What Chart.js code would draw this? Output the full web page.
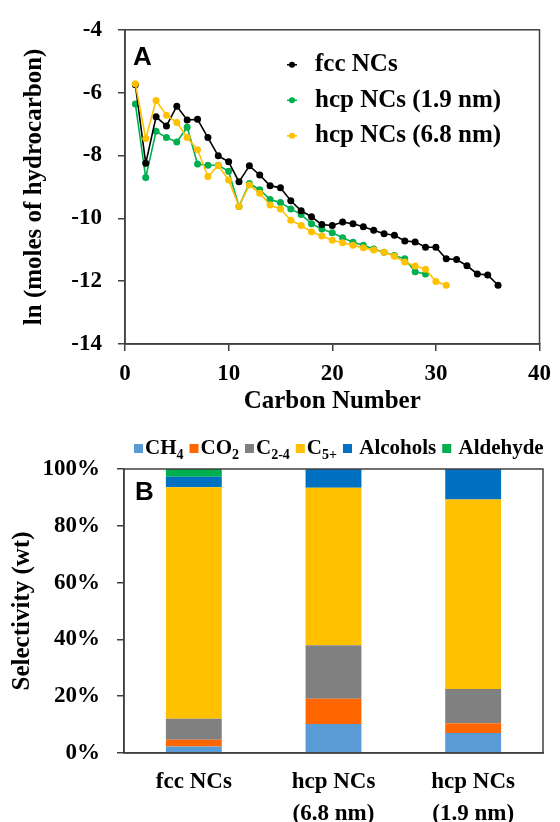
<!DOCTYPE html>
<html>
<head>
<meta charset="utf-8">
<title>Hydrocarbon distribution and selectivity</title>
<script src="https://cdn.jsdelivr.net/npm/chart.js@4.4.1/dist/chart.umd.min.js"></script>
<style>
body{margin:0;background:#fff}
canvas{display:block}
</style>
</head>
<body>
<canvas id="distChart" width="560" height="420"></canvas>
<canvas id="selChart" width="560" height="402"></canvas>
<script>
// panel A: ln(moles) vs carbon number
const carbonNumbers = [1,2,3,4,5,6,7,8,9,10,11,12,13,14,15,16,17,18,19,20,21,22,23,24,25,26,27,28,29,30,31,32,33,34,35,36]
const fccNCs = [-5.75,-8.25,-6.77,-7.06,-6.43,-6.87,-6.85,-7.43,-8.01,-8.20,-8.84,-8.33,-8.62,-8.96,-9.03,-9.44,-9.76,-9.95,-10.20,-10.23,-10.12,-10.17,-10.27,-10.38,-10.49,-10.54,-10.72,-10.75,-10.92,-10.92,-11.29,-11.31,-11.51,-11.77,-11.80,-12.13]
const hcp19 = [-6.36,-8.70,-7.23,-7.43,-7.57,-7.10,-8.27,-8.31,-8.31,-8.50,-9.62,-8.89,-9.09,-9.40,-9.50,-9.70,-9.88,-10.17,-10.34,-10.46,-10.62,-10.76,-10.86,-10.98,-11.08,-11.18,-11.29,-11.70,-11.77]
const hcp68 = [-5.72,-7.46,-6.25,-6.72,-6.95,-7.43,-7.82,-8.67,-8.32,-8.78,-9.62,-8.94,-9.20,-9.58,-9.70,-10.06,-10.23,-10.43,-10.56,-10.70,-10.78,-10.86,-10.94,-11.01,-11.08,-11.21,-11.39,-11.52,-11.62,-12.01,-12.13]

// panel B: selectivity (wt %)
const catalysts = ["fcc NCs", ["hcp NCs","(6.8 nm)"], ["hcp NCs","(1.9 nm)"]]
const ch4 = [2.3, 10.2, 7.0]
const co2 = [2.4, 8.9, 3.5]
const c24 = [7.4, 18.8, 12.0]
const c5plus = [81.5, 55.5, 66.8]
const alcohols = [3.7, 6.6, 10.7]
const aldehyde = [2.7, 0, 0]
const selLabels = [["CH","4"],["CO","2"],["C","2-4"],["C","5+"],[" Alcohols",""],[" Aldehyde",""]]

const SERIF = '"Liberation Serif","Times New Roman",serif'
const SANS = '"Liberation Sans",Arial,sans-serif'
const AXIS = "#404040"

Chart.defaults.font.family = SERIF
Chart.defaults.font.weight = "bold"
Chart.defaults.color = "#000"
Chart.defaults.animation = false

function toPoints(series){
  return series.map((y,i)=>({x:carbonNumbers[i], y:y}))
}

function lineSet(label, series, color, order){
  return {
    label:label,
    data:toPoints(series),
    borderColor:color,
    backgroundColor:color,
    pointBackgroundColor:color,
    pointBorderWidth:0,
    pointRadius:3.5,
    borderWidth:1.6,
    tension:0,
    order:order
  }
}

const panelA = {
  id:"panelA",
  afterDraw(chart){
    const {ctx, chartArea:a} = chart
    ctx.save()
    ctx.strokeStyle = AXIS
    ctx.lineWidth = 1.5
    ctx.strokeRect(a.left, a.top, a.right-a.left, a.bottom-a.top)

    ctx.fillStyle = "#000"
    ctx.font = "bold 26px " + SANS
    ctx.textBaseline = "alphabetic"
    ctx.fillText("A", a.left+8, a.top+35)

    ctx.font = "bold 25px " + SERIF
    ctx.textBaseline = "middle"
    chart.data.datasets.forEach((ds,i)=>{
      const y = a.top + 35 + i*35.5
      const x = a.left + 167
      ctx.strokeStyle = ds.borderColor
      ctx.lineWidth = 1.5
      ctx.beginPath()
      ctx.moveTo(x-5, y)
      ctx.lineTo(x+5, y)
      ctx.stroke()
      ctx.fillStyle = ds.borderColor
      ctx.beginPath()
      ctx.arc(x, y, 3, 0, Math.PI*2)
      ctx.fill()
      ctx.fillStyle = "#000"
      ctx.fillText(ds.label, x+23, y)
    })
    ctx.restore()
  }
}

new Chart(document.getElementById("distChart"),{
  type:"line",
  data:{
    datasets:[
      lineSet("fcc NCs", fccNCs, "#000000", 1),
      lineSet("hcp NCs (1.9 nm)", hcp19, "#00b050", 2),
      lineSet("hcp NCs (6.8 nm)", hcp68, "#ffc000", 0)
    ]
  },
  options:{
    responsive:false,
    layout:{padding:{top:22, right:17, left:0, bottom:0}},
    plugins:{legend:{display:false}, tooltip:{enabled:false}},
    scales:{
      x:{
        type:"linear", min:0, max:40,
        ticks:{stepSize:10, font:{size:23}, padding:9, maxRotation:0},
        grid:{drawOnChartArea:false, tickLength:7, color:AXIS, lineWidth:1.5},
        border:{color:AXIS, width:1.5},
        title:{display:true, text:"Carbon Number", font:{size:25}, padding:{top:0, bottom:3}},
        afterFit(scale){ scale.height = 76 }
      },
      y:{
        min:-14, max:-4,
        ticks:{stepSize:2, font:{size:23}, padding:16},
        grid:{drawOnChartArea:false, tickLength:7, color:AXIS, lineWidth:1.5},
        border:{color:AXIS, width:1.5},
        title:{display:true, text:"ln (moles of hydrocarbon)", font:{size:25}, padding:{top:20, bottom:0}},
        afterFit(scale){ scale.width = 125 }
      }
    }
  },
  plugins:[panelA]
})

const panelB = {
  id:"panelB",
  afterDraw(chart){
    const {ctx, chartArea:a} = chart
    ctx.save()
    ctx.strokeStyle = AXIS
    ctx.lineWidth = 1.5
    ctx.strokeRect(a.left, a.top, a.right-a.left, a.bottom-a.top)

    ctx.fillStyle = "#000"
    ctx.font = "bold 26px " + SANS
    ctx.textBaseline = "alphabetic"
    ctx.fillText("B", a.left+11, a.top+31)

    // legend with subscripts
    let x = 134
    const y = 29
    ctx.textBaseline = "middle"
    chart.data.datasets.forEach((ds,i)=>{
      const parts = selLabels[i]
      ctx.fillStyle = ds.backgroundColor
      ctx.fillRect(x, y-5, 9, 9)
      x += 11
      ctx.fillStyle = "#000"
      ctx.font = "bold 21px " + SERIF
      ctx.fillText(parts[0], x, y)
      x += ctx.measureText(parts[0]).width
      if(parts[1]){
        ctx.font = "bold 14px " + SERIF
        ctx.fillText(parts[1], x, y+6)
        x += ctx.measureText(parts[1]).width
      }
      x += 6
    })
    ctx.restore()
  }
}

function barSet(label, values, color){
  return {label:label, data:values, backgroundColor:color, borderWidth:0, barPercentage:0.4, categoryPercentage:1}
}

new Chart(document.getElementById("selChart"),{
  type:"bar",
  data:{
    labels:catalysts,
    datasets:[
      barSet("CH4", ch4, "#5b9bd5"),
      barSet("CO2", co2, "#ff6600"),
      barSet("C2-4", c24, "#808080"),
      barSet("C5+", c5plus, "#ffc000"),
      barSet("Alcohols", alcohols, "#0070c0"),
      barSet("Aldehyde", aldehyde, "#00b050")
    ]
  },
  options:{
    responsive:false,
    layout:{padding:{top:49, right:17, left:0, bottom:0}},
    plugins:{legend:{display:false}, tooltip:{enabled:false}},
    scales:{
      x:{
        stacked:true,
        ticks:{font:{size:23, lineHeight:1.35}, padding:6, maxRotation:0},
        grid:{display:false},
        border:{color:AXIS, width:1.5},
        afterFit(scale){ scale.height = 69 }
      },
      y:{
        stacked:true, min:0, max:100,
        ticks:{stepSize:20, font:{size:23}, padding:17, callback:v=>v+"%"},
        grid:{drawOnChartArea:false, tickLength:7, color:AXIS, lineWidth:1.5},
        border:{color:AXIS, width:1.5},
        title:{display:true, text:"Selectivity (wt)", font:{size:25}, padding:{top:8, bottom:0}},
        afterFit(scale){ scale.width = 124 }
      }
    }
  },
  plugins:[panelB]
})
</script>
</body>
</html>
